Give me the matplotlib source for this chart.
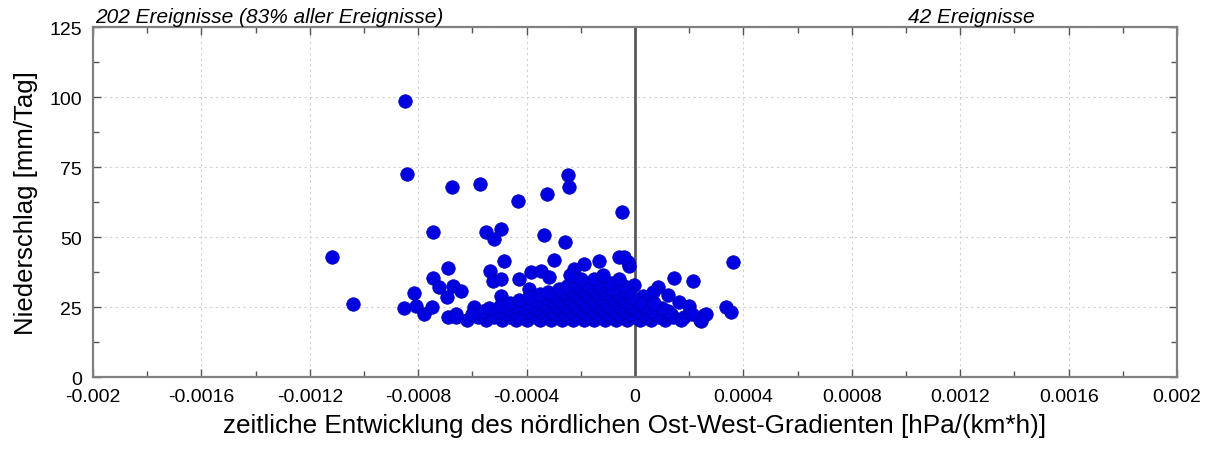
import matplotlib
matplotlib.use("Agg")
import matplotlib.pyplot as plt
import numpy as np

plt.rcParams['font.family'] = ['Liberation Sans', 'DejaVu Sans']

# Einzelne, gut trennbare Ereignisse (Gradient, Niederschlag)
x_single = [-0.00085, -0.000843, -0.00112, -0.00104, -0.000677, -0.000573, -0.000433,
            -0.000325, -0.000248, -0.000244, -0.000048, -0.000747, -0.00055, -0.000495,
            -0.00052, -0.000336, -0.000259, 0.000362, -0.000484, -0.0003, -0.000059,
            -0.000133, -0.000188, -0.000225, -0.000022, -0.00069, -0.000747, -0.000725,
            -0.000673, -0.000643, -0.000695, -0.000817, -0.000854, -0.00081, -0.00078,
            -0.00075, -0.00069, -0.00066, -0.000536, -0.000525, -0.000495, -0.000429,
            -0.000384, -0.000347, -0.000318, -0.000495, -0.000392, -0.000595, 0.000144,
            0.000214, 0.000085, 0.000122, 0.000163, 0.0002, 0.000255, 0.000244,
            0.000336, 0.000355, 0.000262, 0.00003, 0.000067, -0.000026, -0.00004,
            -0.000004, 0.00018, 0.000133, 0.000048, 0.000022]
y_single = [98.6, 72.5, 42.9, 26.0, 67.9, 69.0, 62.9,
            65.4, 72.0, 68.0, 59.0, 51.8, 51.8, 52.9,
            49.3, 50.7, 48.2, 41.0, 41.4, 41.8, 42.9,
            41.4, 40.4, 38.6, 39.6, 38.9, 35.4, 32.1,
            32.5, 30.7, 28.6, 30.0, 24.6, 25.4, 22.5,
            25.0, 21.4, 22.5, 37.9, 34.3, 35.0, 35.0,
            37.5, 37.9, 35.7, 28.9, 31.4, 25.0, 35.4,
            34.3, 32.1, 29.3, 26.8, 25.4, 22.1, 20.0,
            25.0, 23.2, 22.5, 29.0, 30.4, 41.0, 43.0,
            33.0, 21.4, 22.5, 24.3, 21.8]

# Dichter Kern der Verteilung, zeilenweise nach Niederschlag
cluster_rows = {
    20.5: [-0.00062, -0.00055, -0.00049, -0.00044, -0.00040, -0.00035, -0.00031, -0.00027,
           -0.00023, -0.00019, -0.00015, -0.00011, -0.00007, -0.00003, 0.00002, 0.00006,
           0.00011, 0.00017, 0.00024],
    21.5: [-0.00066, -0.00058, -0.00052, -0.00046, -0.00042, -0.00037, -0.00033, -0.00029,
           -0.00025, -0.00021, -0.00017, -0.00013, -0.00009, -0.00005, -0.00001, 0.00004,
           0.00009, 0.00014],
    22.5: [-0.00060, -0.00053, -0.00048, -0.00043, -0.00038, -0.00034, -0.00030, -0.00026,
           -0.00022, -0.00018, -0.00014, -0.00010, -0.00006, -0.00002, 0.00003, 0.00008,
           0.00013, 0.00021],
    23.5: [-0.00056, -0.00050, -0.00045, -0.00039, -0.00035, -0.00031, -0.00027, -0.00024,
           -0.00020, -0.00016, -0.00012, -0.00008, -0.00004, 0.00001, 0.00006, 0.00012],
    24.5: [-0.00054, -0.00047, -0.00041, -0.00036, -0.00032, -0.00028, -0.00025, -0.00021,
           -0.00017, -0.00013, -0.00009, -0.00005, -0.00001, 0.00004, 0.00010],
    25.5: [-0.00050, -0.00044, -0.00038, -0.00033, -0.00029, -0.00026, -0.00022, -0.00018,
           -0.00014, -0.00010, -0.00006, -0.00002, 0.00003],
    26.5: [-0.00046, -0.00040, -0.00034, -0.00030, -0.00027, -0.00023, -0.00019, -0.00015,
           -0.00011, -0.00007, -0.00003, 0.00002, 0.00007],
    27.5: [-0.00043, -0.00036, -0.00031, -0.00028, -0.00024, -0.00020, -0.00016, -0.00012,
           -0.00008, -0.00004],
    28.5: [-0.00039, -0.00033, -0.00029, -0.00025, -0.00021, -0.00017, -0.00013, -0.00009,
           -0.00005, -0.00001],
    29.5: [-0.00035, -0.00030, -0.00026, -0.00022, -0.00018, -0.00014, -0.00010, -0.00006],
    30.5: [-0.00032, -0.00027, -0.00023, -0.00019, -0.00015, -0.00011, -0.00007, -0.00003],
    31.5: [-0.00028, -0.00024, -0.00020, -0.00016, -0.00012, -0.00008],
    32.5: [-0.00025, -0.00021, -0.00017, -0.00013, -0.00004],
    33.5: [-0.00022, -0.00018, -0.00014, -0.00009],
    35.0: [-0.00020, -0.00015, -0.00006],
    36.5: [-0.00024, -0.00012],
}

x_ticks = [-0.002, -0.0016, -0.0012, -0.0008, -0.0004, 0, 0.0004, 0.0008, 0.0012, 0.0016, 0.002]
x_labels = ['-0.002', '-0.0016', '-0.0012', '-0.0008', '-0.0004', '0',
            '0.0004', '0.0008', '0.0012', '0.0016', '0.002']
y_ticks = [0, 25, 50, 75, 100, 125]

x_all = list(x_single)
y_all = list(y_single)
for yv, xs in cluster_rows.items():
    x_all += xs
    y_all += [yv] * len(xs)

fig = plt.figure(figsize=(12.05, 4.52), dpi=100)
ax = fig.add_axes([0.0772, 0.1637, 0.8996, 0.7743])
ax.set_axisbelow(True)

ax.axvline(0, color='#5a5a5a', lw=2, zorder=1)
ax.scatter(x_all, y_all, s=95, color='#0000e0', edgecolors='#0000b0', linewidths=0.5, zorder=3)

ax.set_xlim(-0.002, 0.002)
ax.set_ylim(0, 125)
ax.set_xticks(x_ticks)
ax.set_xticklabels(x_labels)
ax.set_xticks(np.arange(-0.0018, 0.0019, 0.0004), minor=True)
ax.set_yticks(y_ticks)
ax.set_yticks([12.5, 37.5, 62.5, 87.5, 112.5], minor=True)

ax.grid(True, which='major', color='#d0d0d0', linestyle=(0, (2, 3)), lw=0.8)
ax.tick_params(which='both', direction='in', top=True, right=True, color='#555555',
               labelsize=14, pad=8)
ax.tick_params(which='major', length=6, width=1)
ax.tick_params(which='minor', length=4, width=1)
for sp in ax.spines.values():
    sp.set_color('#808080')
    sp.set_linewidth(1.6)

ax.set_xlabel('zeitliche Entwicklung des nördlichen Ost-West-Gradienten [hPa/(km*h)]',
              fontsize=18.8, labelpad=6)
ax.set_ylabel('Niederschlag [mm/Tag]', fontsize=18.5, labelpad=8)

ax.text(0.002, 1.003, '202 Ereignisse (83% aller Ereignisse)', transform=ax.transAxes,
        fontsize=15, style='italic', ha='left', va='bottom')
ax.text(0.752, 1.003, '42 Ereignisse', transform=ax.transAxes,
        fontsize=15, style='italic', ha='left', va='bottom')

fig.savefig('out.png', dpi=100)
